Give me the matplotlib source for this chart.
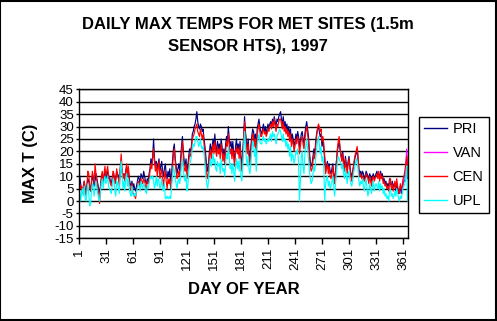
import numpy as np
import matplotlib
matplotlib.use('Agg')
import matplotlib.pyplot as plt

plt.rcParams['font.family'] = ['Liberation Sans', 'DejaVu Sans']
plt.rcParams['axes.unicode_minus'] = False

# daily max temps (C), day 1..365
pri = [10, 7, 5, 4, 6, 8, 5, 3, 6, 9,
       8, 6, 4, 7, 10, 9, 6, 8, 11, 9,
       7, 5, 3, 6, 9, 11, 8, 10, 12, 9,
       11, 12, 9, 10, 8, 7, 9, 11, 10, 8,
       9, 12, 11, 10, 8, 13, 15, 12, 10, 11,
       9, 12, 14, 11, 13, 9, 7, 6, 8, 5,
       7, 5, 4, 6, 8, 10, 9, 7, 11, 10,
       9, 12, 10, 8, 7, 9, 8, 11, 13, 17,
       15, 18, 25, 17, 14, 16, 13, 15, 17, 12,
       14, 16, 12, 10, 13, 15, 11, 9, 12, 10,
       13, 8, 11, 16, 21, 23, 17, 14, 11, 13,
       15, 12, 17, 22, 26, 20, 16, 14, 17, 12,
       14, 18, 21, 20, 22, 27, 28, 30, 31, 33,
       36, 32, 30, 29, 31, 30, 28, 29, 25, 22,
       18, 14, 12, 15, 20, 23, 19, 22, 25, 21,
       27, 22, 20, 24, 21, 23, 19, 25, 22, 18,
       21, 17, 23, 26, 24, 30, 25, 22, 24, 20,
       24, 19, 16, 22, 25, 21, 23, 20, 24, 18,
       14, 20, 26, 34, 28, 24, 21, 25, 19, 17,
       22, 26, 29, 28, 24, 27, 20, 29, 31, 33,
       30, 28, 27, 29, 31, 28, 30, 27, 29, 31,
       29, 31, 32, 30, 33, 31, 34, 32, 30, 33,
       32, 34, 35, 36, 33, 31, 34, 30, 32, 29,
       31, 28, 30, 26, 29, 24, 27, 25, 22, 24,
       27, 25, 28, 26, 22, 24, 27, 28, 25, 23,
       27, 30, 32, 29, 26, 20, 16, 14, 15, 18,
       21, 19, 24, 27, 29, 30, 28, 26, 27, 22,
       25, 21, 17, 12, 14, 16, 13, 15, 12, 11,
       13, 15, 11, 9, 12, 16, 20, 22, 24, 21,
       19, 17, 20, 16, 14, 18, 15, 13, 16, 18,
       14, 11, 10, 12, 14, 16, 18, 19, 21, 17,
       13, 11, 12, 10, 12, 11, 9, 10, 12, 11,
       10, 9, 11, 10, 8, 10, 11, 9, 10, 11,
       12, 10, 11, 9, 12, 10, 11, 8, 9, 7,
       8, 6, 7, 5, 9, 7, 6, 8, 5, 7,
       6, 4, 7, 5, 3, 4, 6, 3, 4, 7,
       8, 8, 10, 13, 9]

cen = [7, 5, 6, 3, 5, 8, 4, 2, 7, 12,
       11, 6, 4, 8, 12, 10, 7, 15, 11, 8,
       6, 3, -1, 5, 10, 12, 7, 11, 14, 10,
       12, 14, 10, 9, 7, 6, 8, 12, 11, 7,
       8, 13, 10, 9, 6, 14, 19, 13, 9, 11,
       8, 11, 15, 10, 14, 8, 5, 4, 7, 3,
       3, 2, 1, 4, 6, 8, 7, 5, 9, 8,
       7, 9, 8, 6, 5, 8, 7, 9, 12, 15,
       13, 17, 21, 16, 12, 15, 10, 13, 16, 9,
       11, 13, 9, 6, 10, 12, 8, 5, 9, 7,
       9, 5, 8, 13, 19, 21, 16, 12, 9, 10,
       12, 10, 14, 20, 24, 18, 13, 12, 15, 9,
       11, 16, 19, 18, 21, 25, 26, 27, 29, 30,
       31, 28, 27, 26, 29, 27, 25, 27, 23, 19,
       15, 11, 9, 12, 18, 21, 17, 20, 23, 19,
       24, 20, 18, 22, 19, 21, 17, 23, 20, 16,
       19, 15, 20, 24, 22, 27, 23, 19, 21, 17,
       21, 17, 14, 20, 22, 19, 21, 17, 22, 15,
       12, 18, 24, 32, 27, 22, 19, 23, 17, 15,
       20, 24, 27, 26, 22, 25, 18, 27, 29, 31,
       28, 26, 26, 28, 29, 27, 28, 26, 27, 29,
       28, 30, 31, 29, 32, 30, 33, 30, 28, 31,
       30, 32, 33, 33, 31, 29, 32, 28, 30, 27,
       29, 26, 28, 24, 27, 22, 25, 23, 20, 22,
       25, 23, 26, 24, 19, 22, 25, 26, 23, 21,
       25, 28, 30, 27, 24, 18, 14, 12, 13, 16,
       19, 17, 22, 26, 29, 31, 30, 28, 29, 24,
       26, 23, 18, 11, 13, 15, 11, 14, 10, 9,
       11, 14, 10, 7, 11, 15, 21, 24, 26, 22,
       18, 16, 19, 14, 12, 17, 13, 11, 15, 17,
       13, 10, 8, 11, 14, 17, 19, 20, 22, 18,
       12, 10, 11, 9, 10, 9, 8, 9, 11, 10,
       9, 7, 10, 8, 6, 9, 10, 8, 9, 10,
       11, 9, 12, 8, 11, 9, 10, 7, 8, 6,
       7, 5, 6, 4, 8, 9, 5, 7, 4, 6,
       8, 5, 9, 6, 4, 3, 7, 5, 6, 9,
       10, 12, 15, 18, 10]

upl = [4, 0, 3, 5, 2, 6, 1, 0, 4, 7,
       3, -2, -1, 4, 7, 5, 2, 6, 8, 5,
       3, 1, 0, 4, 7, 9, 5, 8, 10, 7,
       8, 10, 6, 5, 4, 3, 6, 9, 8, 4,
       2, 8, 7, 5, 3, 12, 16, 10, 5, 8,
       4, 9, 11, 6, 9, 5, 3, 2, 6, 3,
       2, 3, 2, 4, 5, 7, 6, 4, 8, 6,
       5, 7, 6, 4, 3, 6, 5, 7, 9, 10,
       9, 10, 8, 5, 7, 10, 6, 9, 8, 5,
       6, 9, 5, 4, 7, 1, 1, 2, 1, 1,
       2, 1, 6, 10, 14, 12, 9, 7, 5, 8,
       9, 7, 10, 14, 17, 13, 9, 8, 11, 4,
       6, 12, 15, 16, 18, 21, 23, 22, 24, 26,
       26, 24, 22, 23, 25, 22, 21, 22, 19, 15,
       10, 7, 5, 8, 13, 17, 14, 16, 19, 15,
       17, 13, 12, 16, 14, 15, 11, 17, 14, 12,
       13, 10, 15, 19, 17, 22, 18, 13, 15, 11,
       15, 12, 8, 14, 17, 13, 16, 12, 17, 10,
       8, 14, 21, 28, 22, 17, 14, 18, 13, 11,
       15, 20, 24, 23, 18, 21, 12, 22, 25, 27,
       24, 23, 23, 25, 26, 24, 25, 23, 24, 25,
       24, 26, 27, 24, 28, 26, 27, 25, 23, 26,
       27, 28, 29, 28, 26, 24, 27, 24, 25, 22,
       24, 21, 23, 18, 22, 16, 19, 18, 15, 17,
       20, 19, 21, 15, 0, 8, 18, 20, 14, 11,
       19, 22, 25, 21, 17, 12, 9, 7, 8, 11,
       14, 12, 17, 21, 24, 26, 23, 19, 22, 16,
       18, 14, 0, 7, 9, 10, 6, 8, 5, 6,
       8, 10, 6, 2, 7, 11, 15, 18, 17, 16,
       15, 13, 15, 11, 9, 13, 10, 7, 11, 12,
       9, 7, 6, 8, 11, 13, 15, 17, 16, 13,
       8, 6, 8, 7, 9, 6, 4, 7, 9, 5,
       2, 4, 7, 5, 3, 6, 8, 4, 6, 7,
       6, 5, 8, 4, 7, 5, 6, 3, 5, 2,
       3, 1, 2, 0, 4, 5, 2, 3, 1, 2,
       4, 2, 5, 3, 1, 0, 2, 1, 3, 5,
       6, 7, 10, 14, 0]

# VAN only has readings for the last days of the year
van_start = 359
van = [4, 7, 9, 11, 14, 21, 15]

days = np.arange(1, len(pri) + 1)
van_days = np.arange(van_start, van_start + len(van))

fig = plt.figure(figsize=(4.97, 3.21), dpi=100)
ax = fig.add_axes([79.3 / 497, 1 - 238.3 / 321, (408 - 79.3) / 497, (238.3 - 89.3) / 321])

ax.plot(days, pri, color='#000080', lw=0.85, label='PRI')
ax.plot(van_days, van, color='#FF00FF', lw=0.85, label='VAN')
ax.plot(days, cen, color='#FF0000', lw=0.85, label='CEN')
ax.plot(days, upl, color='#00FFFF', lw=0.85, label='UPL')

ax.set_xlim(0.5, 365.5)
ax.set_ylim(-15, 45)
ax.set_yticks(np.arange(-15, 46, 5))
ax.set_yticklabels([str(v) for v in range(-15, 46, 5)], fontsize=9.5)
xt = np.arange(1, 362, 30)
ax.set_xticks(xt - 0.5)
ax.set_xticklabels([str(v) for v in xt], rotation=90, fontsize=9.5)
ax.tick_params(axis='x', length=4, width=1, pad=3, colors='black')
ax.tick_params(axis='y', length=2, width=1, pad=2, colors='black')

ax.grid(axis='y', color='black', lw=1)
ax.set_axisbelow(True)
for s in ax.spines.values():
    s.set_color('black')
    s.set_linewidth(1)

ax.set_xlabel('DAY OF YEAR', fontsize=12, fontweight='bold', labelpad=8)
ax.set_ylabel('MAX T (C)', fontsize=12, fontweight='bold', labelpad=12)

fig.text(248 / 497, 1 - 35.5 / 321, 'DAILY MAX TEMPS FOR MET SITES (1.5m\nSENSOR HTS), 1997',
         ha='center', va='center', fontsize=12, fontweight='bold', linespacing=1.5)

leg = ax.legend(loc='upper left', bbox_to_anchor=(419 / 497, 1 - 117 / 321),
                bbox_transform=fig.transFigure, borderaxespad=0, fontsize=10.5,
                frameon=True, fancybox=False, edgecolor='black', framealpha=1,
                handlelength=1.6, handletextpad=0.35, borderpad=0.35, labelspacing=0.68)
leg.get_frame().set_linewidth(1)
for h in leg.get_lines():
    h.set_linewidth(1.0)

# outer chart border
fig.patches.append(plt.Rectangle((0.001, 0.002), 0.997, 0.996, transform=fig.transFigure,
                                 fill=False, edgecolor='black', lw=1.5))

fig.savefig('out.png', dpi=100)
